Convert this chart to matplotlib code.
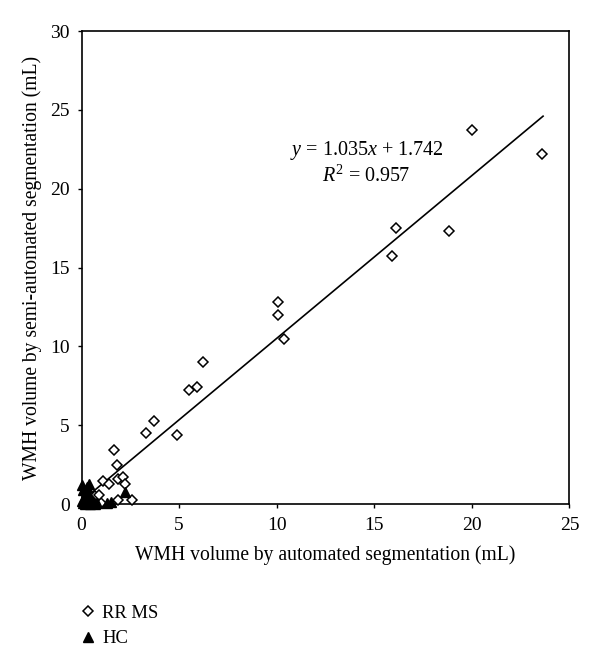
import matplotlib
matplotlib.use("Agg")
import matplotlib.pyplot as plt

plt.rcParams["font.family"] = ["Liberation Serif", "DejaVu Serif"]
plt.rcParams["mathtext.fontset"] = "custom"
plt.rcParams["mathtext.rm"] = "Liberation Serif"
plt.rcParams["mathtext.it"] = "Liberation Serif:italic"

# RR MS patients (automated vs semi-automated WMH volume, mL)
rrms_x = [23.6, 20.0, 18.85, 16.1, 15.9, 10.05, 10.05, 10.35, 6.2, 5.9, 5.5,
          3.7, 3.3, 4.9, 1.65, 1.8, 1.1, 1.4, 1.85, 2.1, 2.2, 1.85, 2.6,
          0.7, 0.45, 1.0, 0.6, 0.9]
rrms_y = [22.2, 23.7, 17.3, 17.5, 15.75, 12.8, 12.0, 10.5, 9.0, 7.45, 7.25,
          5.3, 4.5, 4.4, 3.45, 2.45, 1.45, 1.3, 1.6, 1.7, 1.3, 0.25, 0.25,
          0.5, 0.3, 0.1, 0.15, 0.6]

# Healthy controls
hc_x = [0.0, 0.05, 0.4, 0.3, 0.2, 0.1, 0.0, 0.3, 0.5, 0.6, 0.8, 0.15, 0.45,
        1.3, 1.5, 2.2, 0.05, 0.7, 0.25, 0.35]
hc_y = [1.2, 0.9, 1.3, 1.1, 0.7, 0.4, 0.2, 0.1, 0.3, 0.05, 0.1, 0.0, 0.0,
        0.05, 0.15, 0.8, 0.05, 0.0, 0.3, 0.6]

# regression line as drawn in the figure
fit_x = [0.3, 23.65]
fit_y = [0.5, 24.6]

fig = plt.figure(figsize=(6.0, 6.53), dpi=100)
ax = fig.add_axes([0.136, 0.228, 0.813, 0.7245])

ax.plot(fit_x, fit_y, color="black", linewidth=1.2, zorder=2)
ax.plot(rrms_x, rrms_y, linestyle="none", marker="D", markersize=5,
        markerfacecolor="white", markeredgecolor="black", markeredgewidth=1.1,
        label="RR MS", zorder=3, clip_on=False)
ax.plot(hc_x, hc_y, linestyle="none", marker="^", markersize=7,
        markerfacecolor="black", markeredgecolor="black",
        label="HC", zorder=4, clip_on=False)

ax.set_xlim(0, 25)
ax.set_ylim(0, 30)
ax.set_xticks([0, 5, 10, 15, 20, 25])
ax.set_yticks([0, 5, 10, 15, 20, 25, 30])
ax.tick_params(direction="out", length=2.7, width=1, labelsize=14)
ax.tick_params(axis="x", pad=6.7)
ax.tick_params(axis="y", pad=5.8)
for side in ax.spines.values():
    side.set_linewidth(1.2)

ax.set_xlabel("WMH volume by automated segmentation (mL)", fontsize=14.1, labelpad=8)
ax.set_ylabel("WMH volume by semi-automated segmentation (mL)", fontsize=14.1, labelpad=6)

ax.text(14.6, 22.45, r"$y$ = 1.035$x$ + 1.742", ha="center", va="center", fontsize=14.5)
ax.text(14.6, 20.8, r"$R^2$ = 0.957", ha="center", va="center", fontsize=14.5)

fig.legend(loc="upper left", bbox_to_anchor=(0.104, 0.0995), frameon=False,
           fontsize=13.4, handletextpad=0.25, labelspacing=0.45, handlelength=1.0)

fig.savefig("out.png", dpi=100, facecolor="white")
